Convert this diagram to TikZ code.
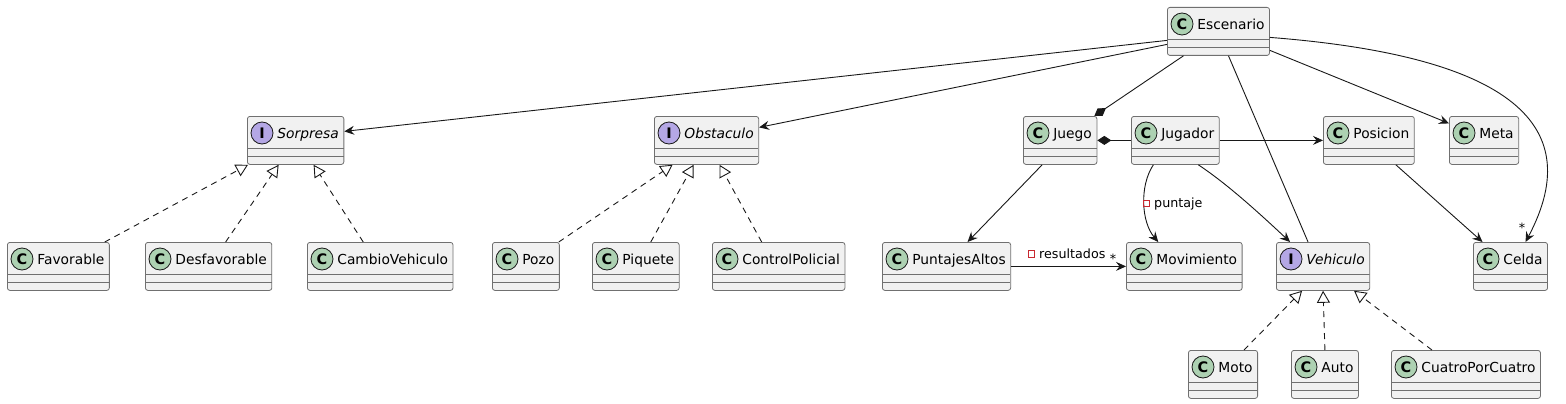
\documentclass[tikz,border=0pt]{standalone}
\usepackage{fontspec}
\setmainfont{DejaVu Sans}
\usetikzlibrary{arrows.meta}

\definecolor{boxfill}{HTML}{F1F1F1}
\definecolor{boxline}{HTML}{707070}
\definecolor{linecol}{HTML}{181818}
\definecolor{classgreen}{HTML}{ADD1B2}
\definecolor{ifacepurple}{HTML}{B4A7E5}
\definecolor{privred}{HTML}{C82930}

\tikzset{
  iconball/.style={circle, draw=linecol, line width=0.8pt, minimum size=22pt, inner sep=0pt,
    font=\fontsize{14.5}{14}\selectfont\bfseries\upshape},
  umlbox/.style 2 args={draw=boxline, fill=boxfill, line width=0.8pt, rounded corners=2.5pt,
    anchor=north west, inner xsep=5pt, inner ysep=0pt, text height=22pt, text depth=26pt,
    execute at begin node={\hspace*{25pt}},
    path picture={
      \draw[boxline, line width=0.8pt] ([yshift=-32pt]path picture bounding box.north west) -- ([yshift=-32pt]path picture bounding box.north east);
      \draw[boxline, line width=0.8pt] ([yshift=-40pt]path picture bounding box.north west) -- ([yshift=-40pt]path picture bounding box.north east);
    },
    label={[iconball, fill=#1, anchor=center, xshift=15pt, yshift=-17pt]north west:#2}},
  classbox/.style={umlbox={classgreen}{C}, font=\fontsize{13.8}{16}\selectfont},
  ifacebox/.style={umlbox={ifacepurple}{I}, font=\fontsize{13.8}{16}\selectfont\itshape},
  assoc/.style={draw=linecol, line width=0.9pt, -{Stealth[length=10pt, width=9pt, inset=3.5pt]}},
  realize/.style={draw=linecol, line width=0.9pt, dash pattern=on 6pt off 5pt,
    -{Triangle[length=12pt, width=13pt, fill=white]}},
  compos/.style={draw=linecol, line width=0.9pt, {Diamond[length=14pt, width=9pt]}-},
  plainline/.style={draw=linecol, line width=0.9pt},
  privsq/.style={draw=privred, line width=0.8pt, minimum size=6.5pt, inner sep=0pt},
  rolelabel/.style={font=\fontsize{12.7}{14}\selectfont, inner sep=0pt}
}

\begin{document}
\begin{tikzpicture}[x=1pt, y=-1pt]
    \useasboundingbox (0,0) rectangle (1566,404);

    % Top level
    \node[classbox] (Escenario) at (1167,7) {Escenario};

    % Second row
    \node[ifacebox] (Sorpresa) at (247,116) {Sorpresa};
    \node[ifacebox] (Obstaculo) at (654,116) {Obstaculo};
    \node[classbox] (Juego) at (1023,116) {Juego};
    \node[classbox] (Jugador) at (1131,116) {Jugador};
    \node[classbox] (Posicion) at (1323,116) {Posicion};
    \node[classbox] (Meta) at (1449,116) {Meta};

    % Third row
    \node[classbox] (Favorable) at (7,242) {Favorable};
    \node[classbox] (Desfavorable) at (145,242) {Desfavorable};
    \node[classbox] (CambioVehiculo) at (307,242) {CambioVehiculo};
    \node[classbox] (Pozo) at (492,242) {Pozo};
    \node[classbox] (Piquete) at (592,242) {Piquete};
    \node[classbox] (ControlPolicial) at (712,242) {ControlPolicial};
    \node[classbox] (PuntajesAltos) at (882,242) {PuntajesAltos};
    \node[classbox] (Movimiento) at (1126,242) {Movimiento};
    \node[ifacebox] (Vehiculo) at (1276,242) {Vehiculo};
    \node[classbox] (Celda) at (1473,242) {Celda};

    % Bottom row
    \node[classbox] (Moto) at (1188,350) {Moto};
    \node[classbox] (Auto) at (1291,350) {Auto};
    \node[classbox] (CuatroPorCuatro) at (1391,350) {CuatroPorCuatro};

    % Associations from Escenario
    \draw[assoc] ([yshift=-9pt]Escenario.west) -- ([yshift=9pt]Sorpresa.east);
    \draw[assoc] ([yshift=-13pt]Escenario.west) -- ([yshift=13pt]Obstaculo.east);
    \draw[compos] ([xshift=-3pt]Juego.north east) -- ([xshift=-35pt]Escenario.south);
    \draw[plainline] ([xshift=10pt]Escenario.south) -- ([xshift=-15pt]Vehiculo.north);
    \draw[assoc] ([yshift=-19pt]Escenario.east) -- ([yshift=17pt]Meta.west);
    \draw[assoc] ([yshift=-6pt]Escenario.east) .. controls +(231,18) and +(65,-122) .. ([xshift=15pt]Celda.north);
    \node[rolelabel, anchor=base] (celdaMult) at (1522,232) {*};

    % Juego and Jugador
    \draw[compos] (Juego.east) -- (Jugador.west);
    \draw[assoc] (Jugador.east) -- (Posicion.west);
    \draw[assoc] ([xshift=-18pt]Juego.south) -- ([xshift=21pt]PuntajesAltos.north);
    \draw[assoc] ([xshift=-22pt]Jugador.south) .. controls +(-14,21) and +(-17,-20) .. ([xshift=-26pt]Movimiento.north);
    \node[privsq] (puntajeSq) at (1146.5,203.5) {};
    \node[rolelabel, anchor=base west] (puntajeLbl) at (1154,207) {puntaje};
    \draw[assoc] ([xshift=23pt]Jugador.south) .. controls +(30,20) and +(-30,-28) .. ([xshift=-33pt]Vehiculo.north);
    \draw[assoc] ([xshift=27pt]Posicion.south) -- ([xshift=-28pt]Celda.north);

    % PuntajesAltos to Movimiento
    \draw[assoc] (PuntajesAltos.east) -- (Movimiento.west);
    \node[privsq] (resultadosSq) at (1031.5,254) {};
    \node[rolelabel, anchor=base west] (resultadosLbl) at (1039,258) {resultados};
    \node[rolelabel, anchor=base] (movMult) at (1113,263) {*};

    % Realizations of Sorpresa
    \draw[realize] ([xshift=-5pt]Favorable.north east) -- ([xshift=1pt]Sorpresa.south west);
    \draw[realize] ([xshift=17pt]Desfavorable.north) -- ([xshift=-17pt]Sorpresa.south);
    \draw[realize] ([xshift=-17pt]CambioVehiculo.north) -- ([xshift=18pt]Sorpresa.south);

    % Realizations of Obstaculo
    \draw[realize] ([xshift=-1pt]Pozo.north east) -- ([xshift=-34pt]Obstaculo.south);
    \draw[realize] ([xshift=15pt]Piquete.north) -- ([xshift=-13pt]Obstaculo.south);
    \draw[realize] ([xshift=-17pt]ControlPolicial.north) -- ([xshift=13pt]Obstaculo.south);

    % Realizations of Vehiculo
    \draw[realize] ([xshift=21pt]Moto.north) -- ([xshift=-21pt]Vehiculo.south);
    \draw[realize] (Auto.north) -- (Vehiculo.south);
    \draw[realize] ([xshift=-34pt]CuatroPorCuatro.north) -- ([xshift=31pt]Vehiculo.south);
\end{tikzpicture}
\end{document}
